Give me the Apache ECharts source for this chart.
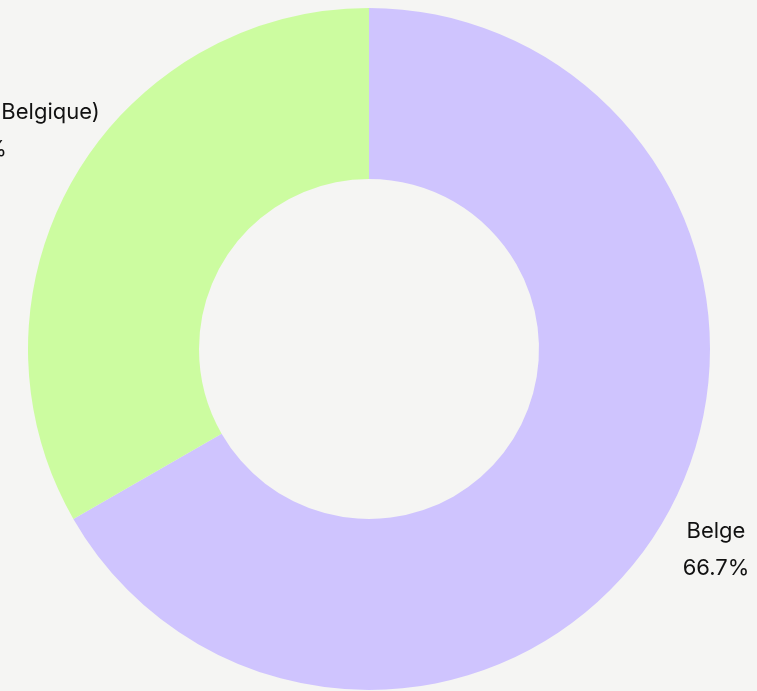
<!DOCTYPE html>
<html>
<head>
<meta charset="utf-8">
<script src="https://cdn.jsdelivr.net/npm/echarts@6/dist/echarts.min.js"></script>
<style>
  html, body { margin: 0; padding: 0; background: #f5f5f3; }
  #chart { width: 757px; height: 691px; }
</style>
</head>
<body>
<div id="chart"></div>
<script>
// data
const categories = ['Belge', 'Étranger (hors Belgique)']
const values = [66.7, 33.3]
const colors = ['#cfc4fe', '#ccfca0']
const labelLineLengths = [61, 95]

const chart = echarts.init(document.getElementById('chart'))

const textStyle = { align: 'center', fontFamily: 'Inter', fontSize: 22, color: '#111', lineHeight: 37 }

const option = {
  backgroundColor: '#f5f5f3',
  series: [
    {
      type: 'pie',
      // the view box is wider than the canvas, labels sit on its edges
      left: -152,
      right: -84,
      top: 0,
      bottom: 0,
      center: [521, 349],
      radius: [170, 341],
      startAngle: 90,
      percentPrecision: 1,
      avoidLabelOverlap: false,
      silent: true,
      label: {
        show: true,
        position: 'outside',
        alignTo: 'edge',
        edgeDistance: 0,
        width: 250,
        overflow: 'none',
        fontFamily: 'Inter',
        fontSize: 22,
        lineHeight: 37,
        color: '#111',
        formatter: '{n|{b}}\n{p|{d}%}',
        rich: {
          n: textStyle,
          p: textStyle
        }
      },
      labelLine: { show: false },
      itemStyle: { borderWidth: 0 },
      data: categories.map((name, i) => ({
        name: name,
        value: values[i],
        itemStyle: { color: colors[i] },
        labelLine: { show: false, length: labelLineLengths[i], length2: 0 }
      }))
    }
  ]
}

chart.setOption(option)
</script>
</body>
</html>
